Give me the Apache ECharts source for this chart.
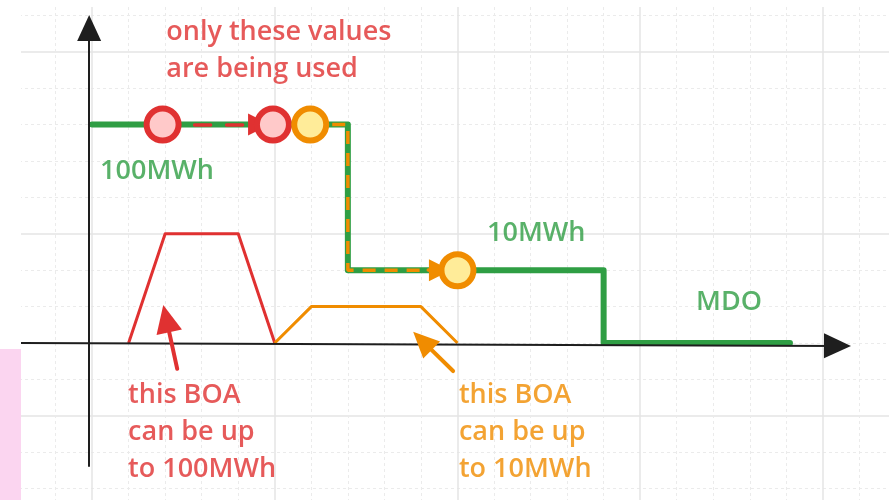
<!DOCTYPE html>
<html>
<head>
<meta charset="utf-8">
<script src="https://cdn.jsdelivr.net/npm/echarts@6/dist/echarts.min.js"></script>
<style>
  html, body { margin: 0; padding: 0; background: #fff; }
  #main { width: 889px; height: 500px; }
</style>
</head>
<body>
<div id="main"></div>
<script>
// one unit = one small grid square, origin where the two axes cross
const mdoStep = [[0, 6], [7, 6], [7, 2], [14, 2], [14, 0], [19.1, 0]];
const boaRed = [[1, 0], [2, 3], [4, 3], [5, 0]];
const boaOrange = [[5, 0], [6, 1], [9, 1], [10, 0]];
const redDots = [[1.93, 6], [4.95, 6]];
const orangeDots = [[5.97, 6], [10, 2]];
const orangePath = [[5.97, 6], [7, 6], [7, 2], [9.5, 2]];
const axisY = [[-0.08, -3.38], [-0.08, 8.65]];
const axisX = [[-1.94, 0], [20.4, -0.08]];
const redUsedArrow = [[1.93, 6], [4.57, 6]];
const orangeUsedArrow = [[9.2, 2], [9.52, 2]];
const redNoteArrow = [[2.33, -0.71], [2.03, 0.67]];
const orangeNoteArrow = [[9.88, -0.77], [9.04, 0.06]];

const notes = [
  { text: 'only these values\nare being used', at: [2.03, 8.02], color: '#e03131' },
  { text: '100MWh', at: [0.22, 4.72], color: '#2f9e44' },
  { text: '10MWh', at: [10.81, 3.0], color: '#2f9e44' },
  { text: 'MDO', at: [16.53, 1.13], color: '#2f9e44' },
  { text: 'this BOA\ncan be up\nto 100MWh', at: [0.985, -2.45], color: '#e03131' },
  { text: 'this BOA\ncan be up\nto 10MWh', at: [10.04, -2.45], color: '#f08c00' }
];

// visible extent of the drawing, in the same units
const xRange = [-2, 21.81];
const yRange = [-4.313, 9.23];
// the paper grid has its thick lines 2 units below the x axis
const paperShift = 2;

const chart = echarts.init(document.getElementById('main'));

function arrow(pts, color, width, size, dash, z) {
  return {
    type: 'line',
    data: [],
    z: z,
    markLine: {
      silent: true,
      animation: false,
      symbol: ['none', 'triangle'],
      symbolSize: size,
      label: { show: false },
      lineStyle: { color: color, width: width, type: dash || 'solid', cap: 'round' },
      itemStyle: { color: color },
      data: [[{ coord: pts[0] }, { coord: pts[1] }]]
    }
  };
}

const hidden = {
  axisLine: { show: false }, axisTick: { show: false }, axisLabel: { show: false }, splitLine: { show: false }
};
const paper = {
  axisLine: { show: false }, axisTick: { show: false }, axisLabel: { show: false },
  minInterval: 5, maxInterval: 5,
  splitLine: { show: true, showMinLine: false, showMaxLine: false, lineStyle: { color: '#e4e4e4', width: 1.5 } },
  minorTick: { show: false, splitNumber: 5 },
  minorSplitLine: { show: true, lineStyle: { color: '#ebebeb', width: 1, type: [3, 3] } }
};

const option = {
  animation: false,
  backgroundColor: '#fff',
  grid: { left: 19, right: 0, top: 7, bottom: 0 },
  xAxis: [
    Object.assign({ type: 'value', min: xRange[0], max: xRange[1] }, hidden),
    Object.assign({ type: 'value', min: xRange[0], max: xRange[1], position: 'top' }, paper)
  ],
  yAxis: [
    Object.assign({ type: 'value', min: yRange[0], max: yRange[1] }, hidden),
    Object.assign({ type: 'value', min: yRange[0] + paperShift, max: yRange[1] + paperShift, position: 'right' }, paper)
  ],
  graphic: [
    { type: 'rect', left: 0, top: 0, shape: { width: 21, height: 349 }, style: { fill: '#fff' }, z: 100 },
    { type: 'rect', left: 0, top: 349, shape: { width: 21, height: 151 }, style: { fill: '#fbd5f0' }, z: 100 }
  ],
  series: [
    arrow(axisY, '#1e1e1e', 2, [24, 26], null, 2),
    arrow(axisX, '#1e1e1e', 2, [25, 27], null, 2),
    {
      type: 'line', data: boaRed, symbol: 'none', z: 3,
      lineStyle: { color: '#e03131', width: 3, join: 'round' }
    },
    {
      type: 'line', data: boaOrange, symbol: 'none', z: 3,
      lineStyle: { color: '#f08c00', width: 3, join: 'round' }
    },
    {
      type: 'line', data: mdoStep, symbol: 'none', z: 4,
      lineStyle: { color: '#2f9e44', width: 6, join: 'round', cap: 'round' }
    },
    {
      type: 'line', data: orangePath, symbol: 'none', z: 5,
      lineStyle: { color: '#f08c00', width: 3.5, type: [13, 9] }
    },
    {
      type: 'scatter', data: redDots, symbol: 'circle', symbolSize: 32, z: 6,
      itemStyle: { color: '#ffc9c9', borderColor: '#e03131', borderWidth: 6, opacity: 1 }
    },
    {
      type: 'scatter', data: orangeDots, symbol: 'circle', symbolSize: 32, z: 6,
      itemStyle: { color: '#ffec99', borderColor: '#f08c00', borderWidth: 6, opacity: 1 }
    },
    arrow(redUsedArrow, '#e03131', 3.5, [22, 22], [16, 16], 7),
    arrow(orangeUsedArrow, '#f08c00', 3.5, [22, 22], null, 7),
    arrow(redNoteArrow, '#e03131', 4, [26, 28], null, 7),
    arrow(orangeNoteArrow, '#f08c00', 4, [24, 26], null, 7),
    {
      type: 'scatter', symbolSize: 0, z: 8, silent: true,
      data: notes.map(n => ({
        value: n.at,
        label: {
          show: true, position: 'inside', align: 'left', verticalAlign: 'middle',
          formatter: n.text, color: n.color,
          fontFamily: 'Open Sans', fontWeight: 600, fontSize: 27, lineHeight: 37
        }
      }))
    }
  ]
};

chart.setOption(option);
</script>
</body>
</html>
